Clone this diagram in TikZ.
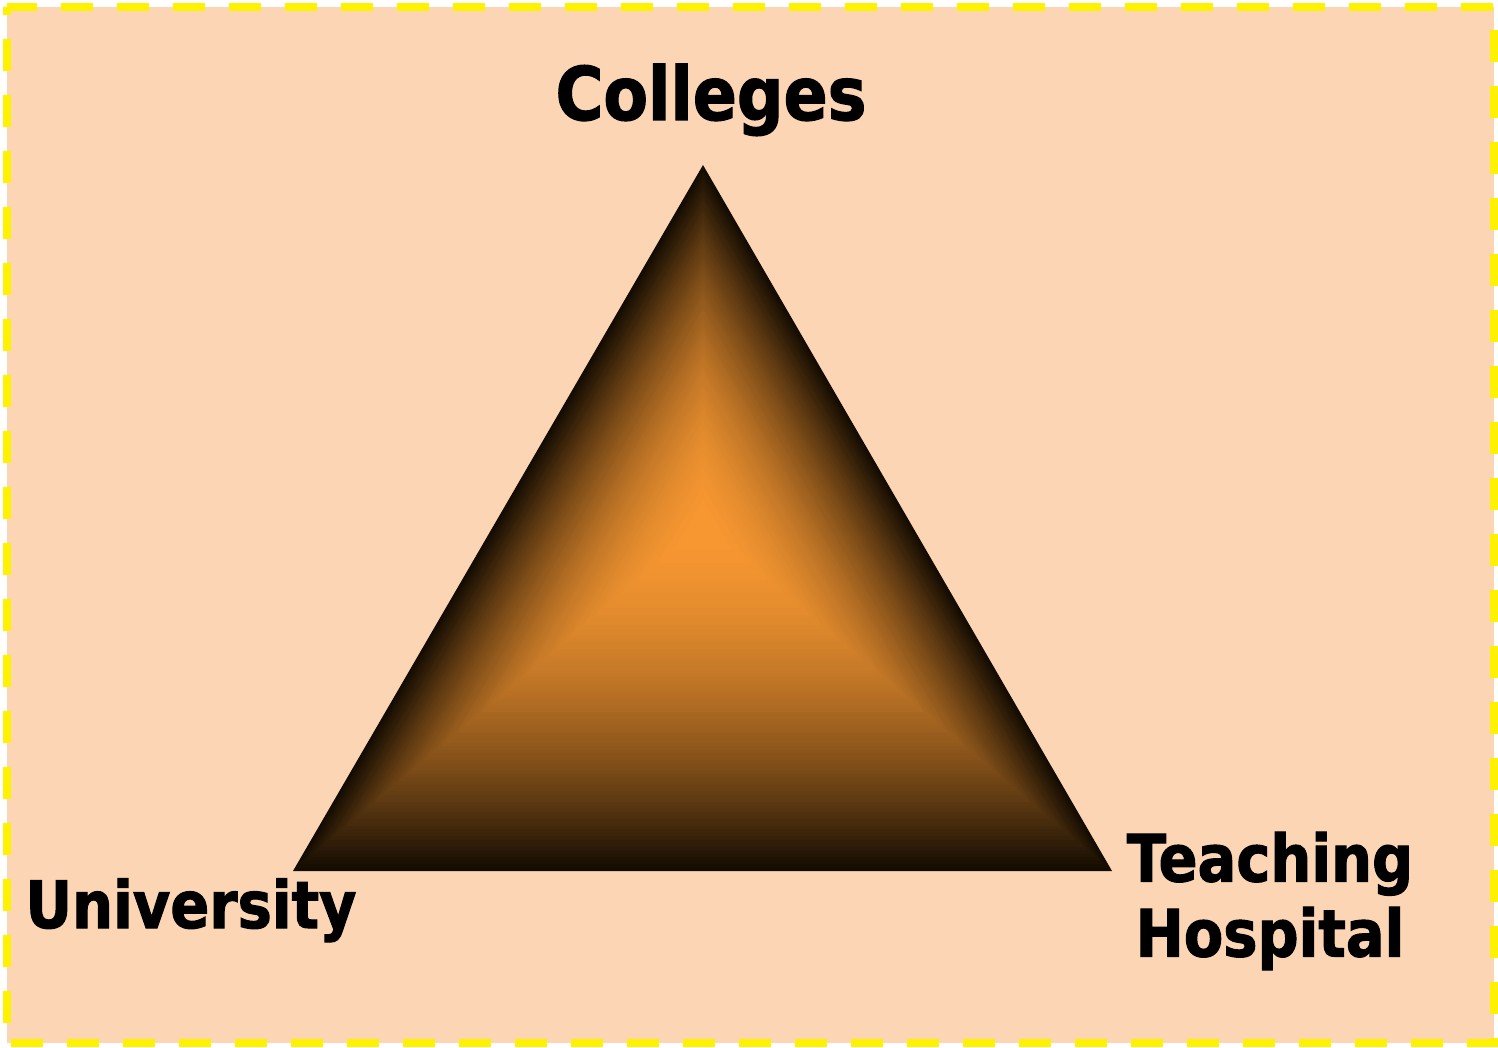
\documentclass[tikz,border=0pt]{standalone}
\usepackage{fontspec}
\newfontfamily\labelfont[FakeStretch=0.88,FakeBold=1.6]{DejaVu Sans}
\usetikzlibrary{calc}
\tikzset{every picture/.style={line width=0.75pt}}
\definecolor{peach}{RGB}{252,213,181}
\definecolor{edgedark}{RGB}{20,12,2}
\definecolor{coreorange}{RGB}{248,152,50}
\tikzset{
  bigtext/.style={font=\labelfont\bfseries\fontsize{55.5}{60}\selectfont, inner sep=0pt},
  sidetext/.style={font=\labelfont\bfseries\fontsize{49}{56.25}\selectfont, inner sep=0pt, align=center},
}

\begin{document}
\begin{tikzpicture}[x=0.75pt,y=0.75pt,yscale=-1,xscale=1]
\useasboundingbox (0,0) rectangle (1498,1048);

%Shape: Rectangle (background)
\draw [color=yellow, fill=peach, line width=6pt, dash pattern=on 24pt off 18pt, dash phase=18pt] (7,7) rectangle (1494,1043) ;

% corners of the triangle and the point where the bevels meet
\coordinate (top) at (703,165) ;
\coordinate (left) at (293,871) ;
\coordinate (right) at (1112,871) ;
\coordinate (mid) at (703,525) ;

%Shape: Triangle, bevelled from dark rim to orange core
\foreach \s in {100,99,...,1} {
  \pgfmathtruncatemacro\p{100*(1-(\s/100)^1.8)}
  \fill [coreorange!\p!edgedark] ($(mid)!\s/100!(top)$) -- ($(mid)!\s/100!(right)$) -- ($(mid)!\s/100!(left)$) -- cycle ;
}

% Text Node
\node [bigtext, anchor=base] (colleges) at (711,120) {Colleges};
% Text Node
\node [sidetext, anchor=base] (university) at (191,928) {University};
% Text Node
\node [sidetext] (hospital) at (1270,901) {Teaching\\Hospital};

\end{tikzpicture}
\end{document}
